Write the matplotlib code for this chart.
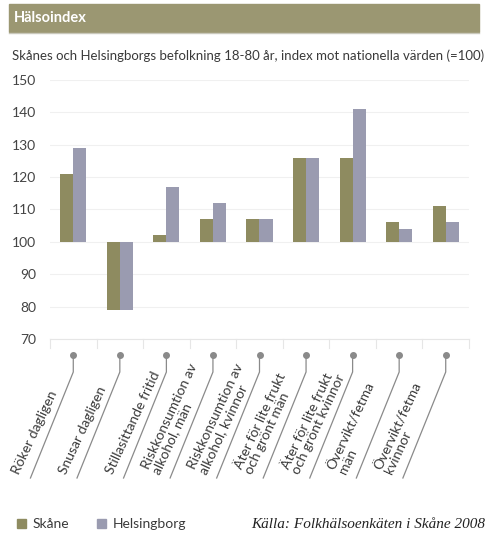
import numpy as np
import matplotlib
matplotlib.use('Agg')
import matplotlib.pyplot as plt
from matplotlib.patches import Rectangle

# ----------------------------
# DATA
# ----------------------------
categories = [
    "Röker dagligen",
    "Snusar dagligen",
    "Stillasittande fritid",
    "Riskkonsumtion av\nalkohol, män",
    "Riskkonsumtion av\nalkohol, kvinnor",
    "Äter för lite frukt\noch grönt män",
    "Äter för lite frukt\noch grönt kvinnor",
    "Övervikt/fetma\nmän",
    "Övervikt/fetma\nkvinnor",
]
skane = [121, 79, 102, 107, 107, 126, 126, 106, 111]
helsingborg = [129, 79, 117, 112, 107, 126, 141, 104, 106]
yticks = [70, 80, 90, 100, 110, 120, 130, 140, 150]
baseline = 100

title = "Hälsoindex"
subtitle = "Skånes och Helsingborgs befolkning 18-80 år, index mot nationella värden (=100)"
source = "Källa: Folkhälsoenkäten i Skåne 2008"
# ----------------------------

c_skane = '#8e8b60'
c_hbg = '#9a9bb0'
c_text = '#3a3a3a'
W, H = 491, 533

plt.rcParams['font.family'] = ['Lato', 'DejaVu Sans']

fig = plt.figure(figsize=(W / 100, H / 100), dpi=100)
ax = fig.add_axes([50 / W, 1 - 339 / H, 419 / W, 259 / H])

x = np.arange(len(categories))
bw = 0.28
ax.bar(x - bw / 2, np.array(skane) - baseline, bw, bottom=baseline, color=c_skane, zorder=3)
ax.bar(x + bw / 2, np.array(helsingborg) - baseline, bw, bottom=baseline, color=c_hbg, zorder=3)

ax.set_xlim(-0.5, len(categories) - 0.5)
ax.set_ylim(70, 150)
ax.set_yticks(yticks)
ax.tick_params(axis='y', length=0, labelsize=10, labelcolor='#444444', pad=10)
ax.set_xticks([])
ax.grid(axis='y', color='#f0f0f0', linewidth=0.8, zorder=0)
for s in ax.spines.values():
    s.set_visible(False)
ax.axhline(70, color='#e6e6e6', linewidth=0.8, clip_on=False)

# category separators and slanted label leaders (pixel geometry)
ang_line = np.radians(68)
for i, lab in enumerate(categories):
    xl = ax.transData.transform((i - 0.5, 0))[0]
    fig.add_artist(plt.Line2D([xl / W, xl / W], [1 - 339 / H, 1 - 348 / H],
                              color='#e6e6e6', linewidth=0.8))
    xc = ax.transData.transform((i, 0))[0]
    y0, y1, y2 = 355, 372, 478
    xe = xc - (y2 - y1) / np.tan(ang_line)
    fig.add_artist(plt.Line2D([xc / W, xc / W, xe / W],
                              [1 - y0 / H, 1 - y1 / H, 1 - y2 / H],
                              color='#8a8a8a', linewidth=0.9))
    fig.add_artist(plt.Line2D([xc / W], [1 - y0 / H], marker='o', markersize=4,
                              color='#8a8a8a', linestyle='none'))
    fig.text((xe - 9) / W, 1 - (y2 - 2) / H, lab, rotation=65, rotation_mode='anchor',
             ha='left', va='bottom', fontsize=10, color=c_text, linespacing=0.95)
x_last = ax.transData.transform((len(categories) - 0.5, 0))[0]
fig.add_artist(plt.Line2D([x_last / W, x_last / W], [1 - 339 / H, 1 - 348 / H],
                          color='#e6e6e6', linewidth=0.8))

# header band
fig.add_artist(Rectangle((9 / W, 1 - 32 / H), 470 / W, 28 / H, transform=fig.transFigure,
                         color='#9b9772', zorder=0))
fig.add_artist(plt.Line2D([9 / W, 479 / W], [1 - 33 / H, 1 - 33 / H],
                          color='#c9c8bb', linewidth=1))
fig.text(14 / W, 1 - 18 / H, title, color='white', fontsize=10.5, fontweight='bold', va='center')
fig.text(12 / W, 1 - 56 / H, subtitle, color=c_text, fontsize=9.5, va='center')

# legend
fig.add_artist(Rectangle((17 / W, 1 - 528 / H), 9 / W, 9 / H, transform=fig.transFigure,
                         color=c_skane))
fig.text(33 / W, 1 - 524 / H, "Skåne", color=c_text, fontsize=10, va='center')
fig.add_artist(Rectangle((97 / W, 1 - 528 / H), 9 / W, 9 / H, transform=fig.transFigure,
                         color=c_hbg))
fig.text(113 / W, 1 - 524 / H, "Helsingborg", color=c_text, fontsize=10, va='center')
fig.text(485 / W, 1 - 524 / H, source, color='#222222', fontsize=11, va='center', ha='right',
         family='Liberation Serif', style='italic')

fig.savefig('out.png', dpi=100)
